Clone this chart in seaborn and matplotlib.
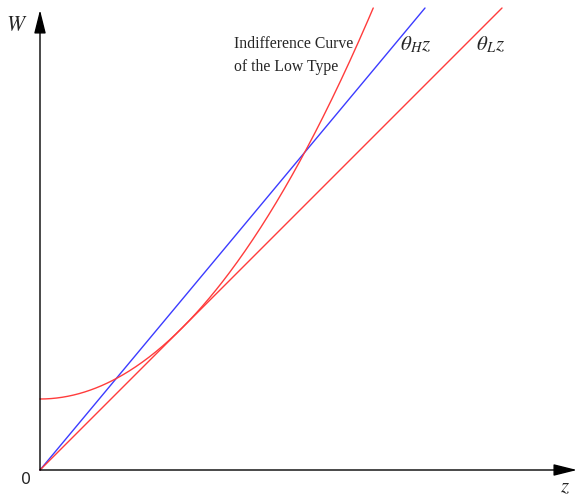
import numpy as np
import pandas as pd
import matplotlib
matplotlib.use("Agg")
import matplotlib.pyplot as plt
import seaborn as sns

# Model parameters
theta_H = 1.2          # slope of the high type's line
theta_L = 1.0          # slope of the low type's line
w_intercept = 0.71     # value of the low type's indifference curve at z = 0
w_top = 4.62           # height where the drawn curves stop

# Curve labels
label_H = r"$\theta_H z$"
label_L = r"$\theta_L z$"
label_curve = "Indifference Curve\nof the Low Type"

sns.set_theme(style="white")
plt.rcParams["mathtext.fontset"] = "stix"
plt.rcParams["font.family"] = ["Liberation Serif", "DejaVu Serif"]

fig = plt.figure(figsize=(5.77, 4.96), dpi=100)
ax = fig.add_axes([0, 0, 1, 1])
ax.set_xlim(-0.40, 5.37)
ax.set_ylim(-0.26, 4.70)
ax.set_axis_off()

red = "#ff3c3c"
blue = "#3c3cff"

# Straight lines W = theta * z
zH = np.array([0.0, w_top / theta_H])
zL = np.array([0.0, w_top / theta_L])
sns.lineplot(x=zH, y=theta_H * zH, ax=ax, color=blue, lw=1.0)
sns.lineplot(x=zL, y=theta_L * zL, ax=ax, color=red, lw=1.0)

# Quadratic indifference curve tangent to theta_L * z
k = theta_L ** 2 / (4 * w_intercept)
z_end = np.sqrt((w_top - w_intercept) / k)
zc = np.linspace(0, z_end, 300)
curve = pd.DataFrame({"z": zc, "W": w_intercept + k * zc ** 2})
sns.lineplot(data=curve, x="z", y="W", ax=ax, color=red, lw=1.0, sort=False)

# Axes with arrow heads
arrow = dict(arrowstyle="-|>,head_length=1.0,head_width=0.25",
             mutation_scale=14.4, color="black", lw=1.0,
             shrinkA=0, shrinkB=0)
ax.annotate("", xy=(0, 4.60), xytext=(0, 0), arrowprops=arrow)
ax.annotate("", xy=(5.37, 0), xytext=(0, 0), arrowprops=arrow)

# Text
ax.text(-0.235, 4.435, "$W$", fontsize=15.5, ha="center", va="center")
ax.text(5.25, -0.18, "$z$", fontsize=15, ha="center", va="center")
ax.text(-0.135, -0.10, "0", fontsize=11.5, ha="center", va="center",
        family=["DejaVu Sans"])
ax.text(3.76, 4.25, label_H, fontsize=15, ha="center", va="center")
ax.text(4.50, 4.25, label_L, fontsize=15, ha="center", va="center")
ax.text(1.94, 4.145, label_curve, fontsize=11.3, ha="left", va="center",
        linespacing=1.66)

fig.savefig("out.png", dpi=100)
